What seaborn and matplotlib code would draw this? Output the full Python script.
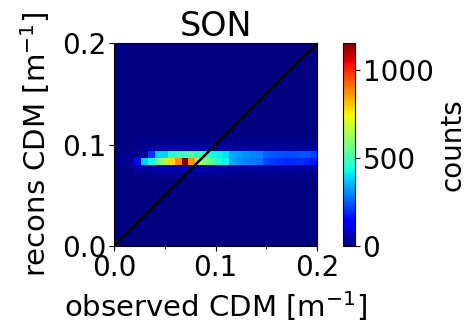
import numpy as np
import pandas as pd
import seaborn as sns
import matplotlib.pyplot as plt
from matplotlib.ticker import MultipleLocator

# 30 x 30 histogram of observed vs reconstructed CDM, 0..0.2 m^-1
n_bins = 30
bin_range = (0.0, 0.2)
title = "SON"

# counts per x-bin for the rows that carry data (row index = y-bin)
row_10 = [0, 0, 0, 10, 15, 15, 20, 20, 20, 20, 20, 20, 20, 20, 20,
          20, 20, 15, 15, 15, 15, 15, 15, 15, 15, 15, 15, 15, 15, 15]
row_11 = [0, 5, 10, 30, 40, 40, 45, 45, 50, 50, 55, 50, 45, 45, 40,
          40, 40, 35, 35, 35, 35, 35, 30, 30, 30, 30, 30, 30, 30, 30]
row_12 = [20, 20, 20, 150, 380, 430, 550, 640, 780, 880, 1152, 860, 650, 580, 520,
          450, 420, 330, 310, 290, 280, 270, 220, 210, 200, 190, 190, 200, 180, 170]
row_13 = [10, 10, 15, 15, 20, 200, 380, 380, 460, 480, 500, 500, 480, 470, 430,
          420, 400, 330, 320, 310, 300, 290, 250, 240, 240, 230, 230, 240, 240, 220]
row_14 = [0, 5, 5, 10, 30, 40, 40, 45, 45, 45, 45, 45, 45, 45, 45,
          40, 40, 40, 40, 40, 40, 40, 35, 35, 35, 35, 35, 35, 35, 35]
row_15 = [0, 0, 0, 5, 10, 15, 15, 15, 15, 15, 15, 15, 15, 15, 15,
          15, 15, 15, 15, 15, 15, 15, 15, 15, 15, 15, 15, 15, 15, 15]

counts = np.zeros((n_bins, n_bins))
counts[10] = row_10
counts[11] = row_11
counts[12] = row_12
counts[13] = row_13
counts[14] = row_14
counts[15] = row_15

edges = np.linspace(bin_range[0], bin_range[1], n_bins + 1)
centers = (edges[:-1] + edges[1:]) / 2
xx, yy = np.meshgrid(centers, centers)
df = pd.DataFrame({"obs": xx.ravel(), "rec": yy.ravel(), "n": counts.ravel()})

plt.rcParams['font.family'] = ['DejaVu Sans']
fs = 20
fig = plt.figure(figsize=(4.67, 3.23), dpi=100)
ax = fig.add_axes([0.244, 0.238, 0.435, 0.629])
cax = fig.add_axes([0.734, 0.238, 0.026, 0.629])

sns.histplot(data=df, x="obs", y="rec", weights="n", bins=n_bins,
             binrange=(bin_range, bin_range), cmap=plt.get_cmap("jet"),
             thresh=None, vmin=0, vmax=counts.max(), cbar=True, cbar_ax=cax,
             cbar_kws={"label": "counts"}, ax=ax)

ax.axline((0, 0), slope=1, color="k", lw=1.8)
ax.set_xlim(bin_range)
ax.set_ylim(bin_range)
ax.xaxis.set_major_locator(MultipleLocator(0.1))
ax.yaxis.set_major_locator(MultipleLocator(0.1))
ax.xaxis.set_minor_locator(MultipleLocator(0.05))
ax.tick_params(labelsize=fs, pad=2)
ax.set_xlabel("observed CDM [m$^{-1}$]", fontsize=21, labelpad=5)
ax.set_ylabel("recons CDM [m$^{-1}$]", fontsize=21, labelpad=7)
ax.set_title(title, fontsize=24, pad=4)

cax.tick_params(labelsize=fs, pad=2)
cax.set_yticks([0, 500, 1000])
cax.yaxis.label.set_size(fs)
cax.yaxis.labelpad = 4

fig.savefig("out.png", dpi=100)
